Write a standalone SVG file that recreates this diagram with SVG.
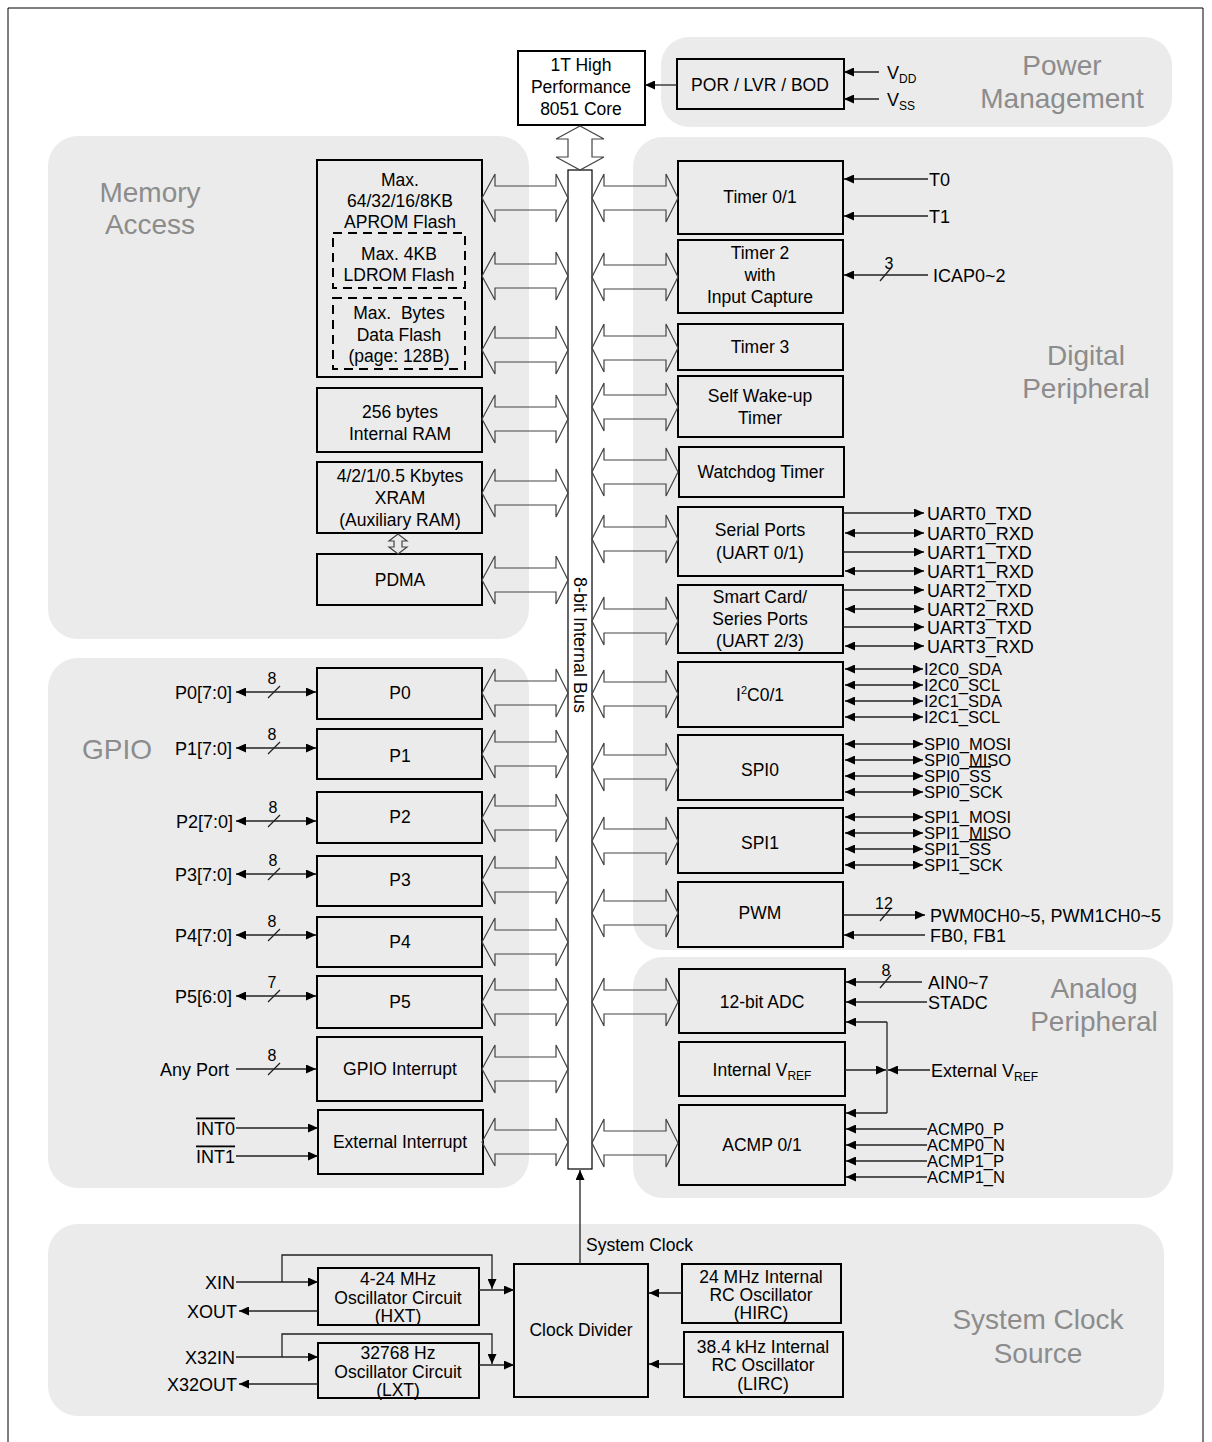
<svg xmlns="http://www.w3.org/2000/svg" width="1212" height="1442" viewBox="0 0 1212 1442">
<style>
text{font-family:"Liberation Sans",Arial,sans-serif;fill:#000}
.pn{fill:#ebebeb}
.pl{font-size:28px;fill:#8c8c8c;text-anchor:middle}
.bx{fill:none;stroke:#000;stroke-width:2}
.ds{fill:none;stroke:#000;stroke-width:2;stroke-dasharray:9 6}
.t{font-size:17.5px;text-anchor:middle}
.s{font-size:18px}
.c{font-size:16.5px}
.e{font-size:18px;text-anchor:end}
.n{font-size:16px;text-anchor:middle}
.bus{fill:none;stroke:#444;stroke-width:1.2}
.w{fill:none;stroke:#222;stroke-width:1.3}
.a{marker-end:url(#ah)}
.b{marker-start:url(#ah);marker-end:url(#ah)}
</style>
<defs>
<marker id="ah" viewBox="0 0 10 9" refX="10" refY="4.5" markerWidth="10" markerHeight="9" markerUnits="userSpaceOnUse" orient="auto-start-reverse"><path d="M0,0 L10,4.5 L0,9 z" fill="#000"/></marker>
<polygon id="bl" class="bus" points="482,0 495,-24 495,-12 556,-12 556,-24 568,0 556,24 556,12 495,12 495,24"/>
<polygon id="br" class="bus" points="592,0 604,-24 604,-12 666,-12 666,-24 678,0 666,24 666,12 604,12 604,24"/>
</defs>

<path d="M8,1442 V8 H1203 V1442" fill="none" stroke="#000" stroke-width="1"/>

<g id="panels">
<rect class="pn" x="661" y="37" width="511" height="90" rx="28"/>
<rect class="pn" x="48" y="136" width="481" height="503" rx="30"/>
<rect class="pn" x="633" y="137" width="540" height="813" rx="30"/>
<rect class="pn" x="48" y="658" width="481" height="530" rx="30"/>
<rect class="pn" x="633" y="957" width="540" height="241" rx="30"/>
<rect class="pn" x="48" y="1224" width="1116" height="192" rx="30"/>
<text class="pl" x="1062" y="75">Power</text>
<text class="pl" x="1062" y="108">Management</text>
<text class="pl" x="150" y="202">Memory</text>
<text class="pl" x="150" y="234">Access</text>
<text class="pl" x="1086" y="365">Digital</text>
<text class="pl" x="1086" y="398">Peripheral</text>
<text class="pl" x="117" y="759">GPIO</text>
<text class="pl" x="1094" y="998">Analog</text>
<text class="pl" x="1094" y="1031">Peripheral</text>
<text class="pl" x="1038" y="1329">System Clock</text>
<text class="pl" x="1038" y="1363">Source</text>
</g>

<g id="core">
<rect x="518" y="51" width="127" height="74" fill="#fff" stroke="#000" stroke-width="2"/>
<text class="t" x="581" y="71">1T High</text>
<text class="t" x="581" y="93">Performance</text>
<text class="t" x="581" y="115">8051 Core</text>
</g>
<g id="por">
<rect class="bx" x="677" y="59" width="167" height="50"/>
<text class="t" x="760" y="91">POR / LVR / BOD</text>
</g>
<g id="bus">
<rect x="568" y="170" width="24" height="999" fill="#fff" stroke="#000" stroke-width="1.2"/>
<text class="t" transform="translate(580,645) rotate(90)" x="0" y="6" style="font-size:18px">8-bit Internal Bus</text>
</g>

<g id="aprom">
<rect class="bx" x="317" y="160" width="165" height="217"/>
<text class="t" x="400" y="186">Max.</text>
<text class="t" x="400" y="207">64/32/16/8KB</text>
<text class="t" x="400" y="228">APROM Flash</text>
</g>
<g id="ldrom">
<rect class="ds" x="333" y="233" width="132" height="55"/>
<text class="t" x="399" y="260">Max. 4KB</text>
<text class="t" x="399" y="281">LDROM Flash</text>
</g>
<g id="dataflash">
<rect class="ds" x="333" y="298" width="132" height="71"/>
<text class="t" x="399" y="319" style="white-space:pre">Max.  Bytes</text>
<text class="t" x="399" y="341">Data Flash</text>
<text class="t" x="399" y="362">(page: 128B)</text>
</g>
<g id="iram">
<rect class="bx" x="317" y="388" width="165" height="64"/>
<text class="t" x="400" y="418">256 bytes</text>
<text class="t" x="400" y="440">Internal RAM</text>
</g>
<g id="xram">
<rect class="bx" x="317" y="462" width="165" height="71"/>
<text class="t" x="400" y="482">4/2/1/0.5 Kbytes</text>
<text class="t" x="400" y="504">XRAM</text>
<text class="t" x="400" y="526">(Auxiliary RAM)</text>
</g>
<g id="pdma">
<rect class="bx" x="317" y="554" width="165" height="51"/>
<text class="t" x="400" y="586">PDMA</text>
</g>

<g id="p0"><rect class="bx" x="317" y="668" width="165" height="51"/><text class="t" x="400" y="699">P0</text></g>
<g id="p1"><rect class="bx" x="317" y="729" width="165" height="50"/><text class="t" x="400" y="762">P1</text></g>
<g id="p2"><rect class="bx" x="317" y="792" width="165" height="51"/><text class="t" x="400" y="823">P2</text></g>
<g id="p3"><rect class="bx" x="317" y="856" width="165" height="50"/><text class="t" x="400" y="886">P3</text></g>
<g id="p4"><rect class="bx" x="317" y="917" width="165" height="50"/><text class="t" x="400" y="948">P4</text></g>
<g id="p5"><rect class="bx" x="317" y="976" width="165" height="52"/><text class="t" x="400" y="1008">P5</text></g>
<g id="gpioint"><rect class="bx" x="317" y="1037" width="165" height="64"/><text class="t" x="400" y="1075">GPIO Interrupt</text></g>
<g id="extint"><rect class="bx" x="318" y="1110" width="165" height="64"/><text class="t" x="400" y="1148">External Interrupt</text></g>

<g id="timer01"><rect class="bx" x="678" y="161" width="165" height="73"/><text class="t" x="760" y="203">Timer 0/1</text></g>
<g id="timer2"><rect class="bx" x="678" y="240" width="165" height="73"/>
<text class="t" x="760" y="259">Timer 2</text><text class="t" x="760" y="281">with</text><text class="t" x="760" y="303">Input Capture</text></g>
<g id="timer3"><rect class="bx" x="678" y="324" width="165" height="46"/><text class="t" x="760" y="353">Timer 3</text></g>
<g id="wkt"><rect class="bx" x="678" y="376" width="165" height="61"/>
<text class="t" x="760" y="402">Self Wake-up</text><text class="t" x="760" y="424">Timer</text></g>
<g id="wdt"><rect class="bx" x="679" y="447" width="165" height="50"/><text class="t" x="761" y="478">Watchdog Timer</text></g>
<g id="uart01"><rect class="bx" x="678" y="507" width="165" height="69"/>
<text class="t" x="760" y="536">Serial Ports</text><text class="t" x="760" y="559">(UART 0/1)</text></g>
<g id="uart23"><rect class="bx" x="678" y="585" width="165" height="68"/>
<text class="t" x="760" y="603">Smart Card/</text><text class="t" x="760" y="625">Series Ports</text><text class="t" x="760" y="647">(UART 2/3)</text></g>
<g id="i2c"><rect class="bx" x="678" y="662" width="165" height="65"/>
<text class="t" x="760" y="701">I<tspan font-size="11" dy="-7">2</tspan><tspan dy="7">C0/1</tspan></text></g>
<g id="spi0"><rect class="bx" x="678" y="735" width="165" height="65"/><text class="t" x="760" y="776">SPI0</text></g>
<g id="spi1"><rect class="bx" x="678" y="808" width="165" height="65"/><text class="t" x="760" y="849">SPI1</text></g>
<g id="pwm"><rect class="bx" x="678" y="882" width="165" height="65"/><text class="t" x="760" y="919">PWM</text></g>
<g id="adc"><rect class="bx" x="679" y="969" width="166" height="64"/><text class="t" x="762" y="1008">12-bit ADC</text></g>
<g id="ivref"><rect class="bx" x="679" y="1042" width="166" height="54"/>
<text class="t" x="762" y="1076">Internal V<tspan font-size="12" dy="4">REF</tspan></text></g>
<g id="acmp"><rect class="bx" x="679" y="1105" width="166" height="80"/><text class="t" x="762" y="1151">ACMP 0/1</text></g>

<g id="clkdiv"><rect class="bx" x="514" y="1264" width="134" height="133"/><text class="t" x="581" y="1336">Clock Divider</text></g>
<g id="hxt"><rect class="bx" x="318" y="1268" width="161" height="57"/>
<text class="t" x="398" y="1285">4-24 MHz</text><text class="t" x="398" y="1304">Oscillator Circuit</text><text class="t" x="398" y="1322">(HXT)</text></g>
<g id="lxt"><rect class="bx" x="318" y="1343" width="161" height="55"/>
<text class="t" x="398" y="1359">32768 Hz</text><text class="t" x="398" y="1378">Oscillator Circuit</text><text class="t" x="398" y="1396">(LXT)</text></g>
<g id="hirc"><rect class="bx" x="682" y="1264" width="159" height="59"/>
<text class="t" x="761" y="1283">24 MHz Internal</text><text class="t" x="761" y="1301">RC Oscillator</text><text class="t" x="761" y="1319">(HIRC)</text></g>
<g id="lirc"><rect class="bx" x="684" y="1332" width="159" height="65"/>
<text class="t" x="763" y="1353">38.4 kHz Internal</text><text class="t" x="763" y="1371">RC Oscillator</text><text class="t" x="763" y="1390">(LIRC)</text></g>

<g id="connectors">
<polygon class="bus" points="580,126 556,139 568,139 568,157 556,157 580,170 604,157 592,157 592,139 604,139"/>
<polygon class="bus" points="398,534 389,541 394,541 394,547 389,547 398,554 407,547 402,547 402,541 407,541"/>
<use href="#bl" y="198"/><use href="#bl" y="276"/><use href="#bl" y="350"/><use href="#bl" y="419"/>
<use href="#bl" y="493"/><use href="#bl" y="580"/><use href="#bl" y="693"/><use href="#bl" y="754"/>
<use href="#bl" y="818"/><use href="#bl" y="880"/><use href="#bl" y="942"/><use href="#bl" y="1002"/>
<use href="#bl" y="1069"/><use href="#bl" y="1142"/>
<use href="#br" y="198"/><use href="#br" y="277"/><use href="#br" y="348"/><use href="#br" y="407"/>
<use href="#br" y="472"/><use href="#br" y="539"/><use href="#br" y="621"/><use href="#br" y="694"/>
<use href="#br" y="767"/><use href="#br" y="841"/><use href="#br" y="913"/><use href="#br" y="1002"/>
<use href="#br" y="1143"/>

<line class="w a" x1="677" y1="85" x2="645" y2="85"/>
<line class="w a" x1="879" y1="72" x2="844" y2="72"/>
<line class="w a" x1="879" y1="99" x2="844" y2="99"/>
<text class="s" x="887" y="79">V<tspan font-size="12" dy="4">DD</tspan></text>
<text class="s" x="887" y="106">V<tspan font-size="12" dy="4">SS</tspan></text>

<line class="w a" x1="928" y1="179" x2="844" y2="179"/>
<line class="w a" x1="928" y1="216" x2="844" y2="216"/>
<text class="s" x="929" y="185.5">T0</text>
<text class="s" x="929" y="222.5">T1</text>
<line class="w a" x1="928" y1="275" x2="844" y2="275"/>
<line class="w" x1="880" y1="281" x2="891" y2="268"/>
<text class="n" x="889" y="269">3</text>
<text class="s" x="933" y="281.5">ICAP0~2</text>

<line class="w a" x1="843" y1="513" x2="924" y2="513"/>
<line class="w b" x1="845" y1="533" x2="924" y2="533"/>
<line class="w a" x1="843" y1="552" x2="924" y2="552"/>
<line class="w b" x1="845" y1="571" x2="924" y2="571"/>
<line class="w a" x1="843" y1="590" x2="924" y2="590"/>
<line class="w b" x1="845" y1="609" x2="924" y2="609"/>
<line class="w a" x1="843" y1="627" x2="924" y2="627"/>
<line class="w b" x1="845" y1="646" x2="924" y2="646"/>
<text class="s" x="927" y="519.5">UART0_TXD</text>
<text class="s" x="927" y="539.5">UART0_RXD</text>
<text class="s" x="927" y="558.5">UART1_TXD</text>
<text class="s" x="927" y="577.5">UART1_RXD</text>
<text class="s" x="927" y="596.5">UART2_TXD</text>
<text class="s" x="927" y="615.5">UART2_RXD</text>
<text class="s" x="927" y="633.5">UART3_TXD</text>
<text class="s" x="927" y="652.5">UART3_RXD</text>

<line class="w b" x1="845" y1="669" x2="923" y2="669"/>
<line class="w b" x1="845" y1="685" x2="923" y2="685"/>
<line class="w b" x1="845" y1="701" x2="923" y2="701"/>
<line class="w b" x1="845" y1="717" x2="923" y2="717"/>
<text class="c" x="924" y="675">I2C0_SDA</text>
<text class="c" x="924" y="691">I2C0_SCL</text>
<text class="c" x="924" y="707">I2C1_SDA</text>
<text class="c" x="924" y="723">I2C1_SCL</text>

<line class="w b" x1="845" y1="744" x2="923" y2="744"/>
<line class="w b" x1="845" y1="760" x2="923" y2="760"/>
<line class="w b" x1="845" y1="776" x2="923" y2="776"/>
<line class="w b" x1="845" y1="792" x2="923" y2="792"/>
<text class="c" x="924" y="750">SPI0_MOSI</text>
<text class="c" x="924" y="766">SPI0_MISO</text>
<text class="c" x="924" y="782">SPI0_<tspan text-decoration="overline">SS</tspan></text>
<text class="c" x="924" y="798">SPI0_SCK</text>
<line class="w b" x1="845" y1="817" x2="923" y2="817"/>
<line class="w b" x1="845" y1="833" x2="923" y2="833"/>
<line class="w b" x1="845" y1="849" x2="923" y2="849"/>
<line class="w b" x1="845" y1="865" x2="923" y2="865"/>
<text class="c" x="924" y="823">SPI1_MOSI</text>
<text class="c" x="924" y="839">SPI1_MISO</text>
<text class="c" x="924" y="855">SPI1_<tspan text-decoration="overline">SS</tspan></text>
<text class="c" x="924" y="871">SPI1_SCK</text>

<line class="w a" x1="843" y1="915" x2="925" y2="915"/>
<line class="w" x1="880" y1="921" x2="891" y2="908"/>
<text class="n" x="884" y="909">12</text>
<text class="s" x="930" y="921.5">PWM0CH0~5, PWM1CH0~5</text>
<line class="w a" x1="925" y1="935" x2="844" y2="935"/>
<text class="s" x="930" y="941.5">FB0, FB1</text>

<line class="w a" x1="922" y1="982" x2="846" y2="982"/>
<line class="w" x1="880" y1="988" x2="891" y2="975"/>
<text class="n" x="886" y="976">8</text>
<text class="s" x="928" y="988.5">AIN0~7</text>
<line class="w a" x1="927" y1="1002" x2="846" y2="1002"/>
<text class="s" x="928" y="1008.5">STADC</text>
<path class="w" d="M887,1022 V1113"/>
<line class="w a" x1="887" y1="1022" x2="846" y2="1022"/>
<line class="w a" x1="887" y1="1113" x2="846" y2="1113"/>
<line class="w a" x1="845" y1="1070" x2="886" y2="1070"/>
<line class="w a" x1="930" y1="1070" x2="888" y2="1070"/>
<text class="s" x="931" y="1076.5">External V<tspan font-size="12" dy="4">REF</tspan></text>
<line class="w a" x1="927" y1="1129" x2="846" y2="1129"/>
<line class="w a" x1="927" y1="1145" x2="846" y2="1145"/>
<line class="w a" x1="927" y1="1161" x2="846" y2="1161"/>
<line class="w a" x1="927" y1="1177" x2="846" y2="1177"/>
<text class="c" x="927" y="1135">ACMP0_P</text>
<text class="c" x="927" y="1151">ACMP0_N</text>
<text class="c" x="927" y="1167">ACMP1_P</text>
<text class="c" x="927" y="1183">ACMP1_N</text>

<line class="w b" x1="236" y1="692" x2="316" y2="692"/>
<line class="w b" x1="236" y1="748" x2="316" y2="748"/>
<line class="w b" x1="236" y1="821" x2="316" y2="821"/>
<line class="w b" x1="236" y1="874" x2="316" y2="874"/>
<line class="w b" x1="236" y1="935" x2="316" y2="935"/>
<line class="w b" x1="236" y1="996" x2="316" y2="996"/>
<line class="w a" x1="236" y1="1069" x2="316" y2="1069"/>
<line class="w" x1="268" y1="698" x2="280" y2="686"/>
<line class="w" x1="268" y1="754" x2="280" y2="742"/>
<line class="w" x1="268" y1="827" x2="280" y2="815"/>
<line class="w" x1="268" y1="880" x2="280" y2="868"/>
<line class="w" x1="268" y1="941" x2="280" y2="929"/>
<line class="w" x1="268" y1="1002" x2="280" y2="990"/>
<line class="w" x1="268" y1="1075" x2="280" y2="1063"/>
<text class="n" x="272" y="684">8</text>
<text class="n" x="272" y="740">8</text>
<text class="n" x="273" y="813">8</text>
<text class="n" x="273" y="866">8</text>
<text class="n" x="272" y="927">8</text>
<text class="n" x="272" y="988">7</text>
<text class="n" x="272" y="1061">8</text>
<text class="e" x="232" y="698.5">P0[7:0]</text>
<text class="e" x="232" y="754.5">P1[7:0]</text>
<text class="e" x="233" y="827.5">P2[7:0]</text>
<text class="e" x="232" y="880.5">P3[7:0]</text>
<text class="e" x="232" y="941.5">P4[7:0]</text>
<text class="e" x="232" y="1002.5">P5[6:0]</text>
<text class="e" x="229" y="1075.5">Any Port</text>
<line class="w a" x1="236" y1="1128" x2="318" y2="1128"/>
<line class="w a" x1="236" y1="1156" x2="318" y2="1156"/>
<text class="e" x="235" y="1134.5" text-decoration="overline">INT0</text>
<text class="e" x="235" y="1162.5" text-decoration="overline">INT1</text>

<line class="w a" x1="580" y1="1264" x2="580" y2="1170"/>
<text class="t" x="586" y="1251" style="text-anchor:start">System Clock</text>
<line class="w a" x1="236" y1="1282" x2="318" y2="1282"/>
<path class="w a" d="M282,1282 V1255 H492 V1289"/>
<line class="w a" x1="479" y1="1290" x2="514" y2="1290"/>
<line class="w a" x1="318" y1="1311" x2="239" y2="1311"/>
<text class="e" x="235" y="1288.5">XIN</text>
<text class="e" x="237" y="1317.5">XOUT</text>
<line class="w a" x1="236" y1="1357" x2="318" y2="1357"/>
<path class="w a" d="M282,1357 V1334 H492 V1364"/>
<line class="w a" x1="479" y1="1365" x2="514" y2="1365"/>
<line class="w a" x1="318" y1="1384" x2="239" y2="1384"/>
<text class="e" x="235" y="1363.5">X32IN</text>
<text class="e" x="237" y="1390.5">X32OUT</text>
<line class="w a" x1="682" y1="1293" x2="649" y2="1293"/>
<line class="w a" x1="684" y1="1364" x2="649" y2="1364"/>
</g>
</svg>
